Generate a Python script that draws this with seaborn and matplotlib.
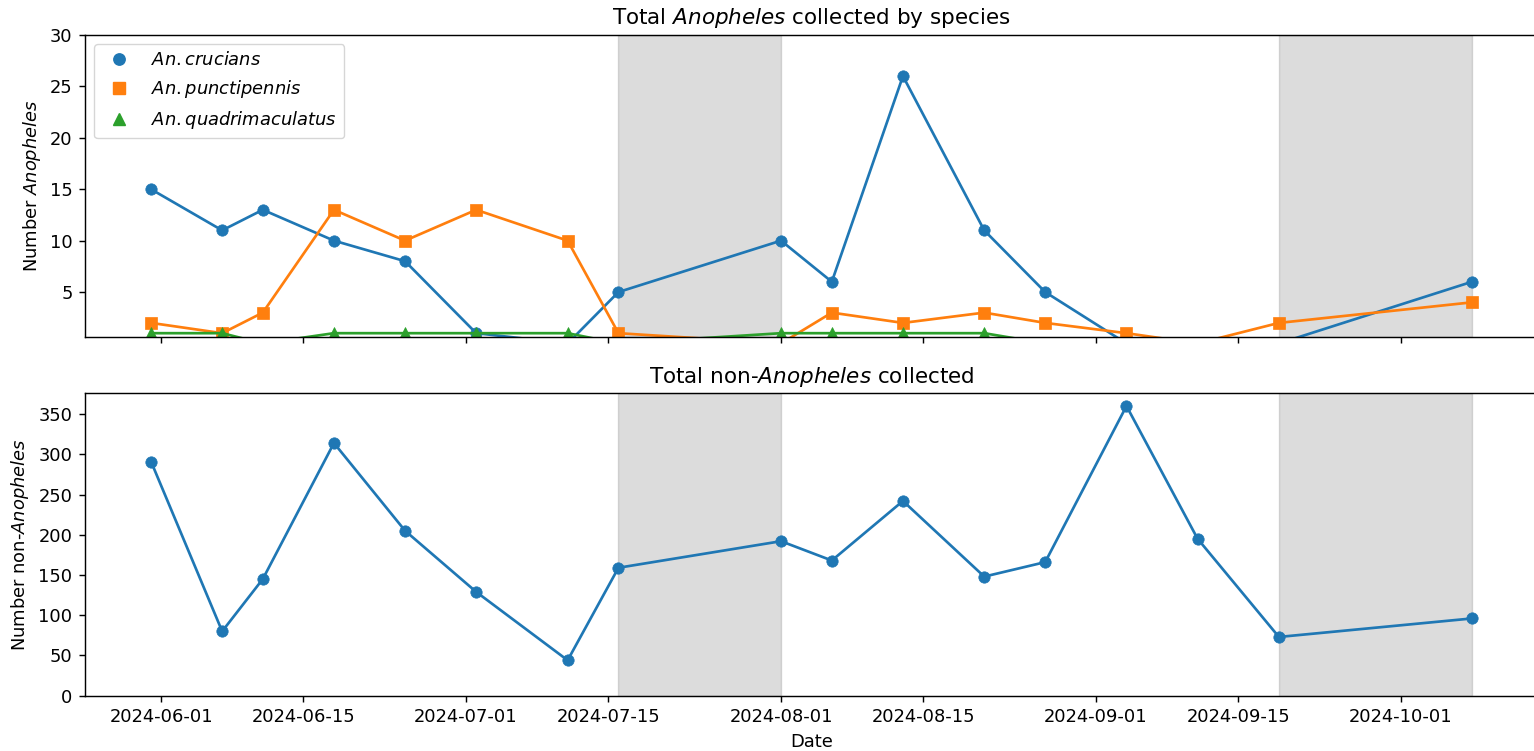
import matplotlib
matplotlib.use("Agg")
import matplotlib.pyplot as plt
import matplotlib.dates as mdates
from matplotlib.lines import Line2D
import seaborn as sns
import pandas as pd

# ---- data ----
dates = ['2024-05-31', '2024-06-07', '2024-06-11', '2024-06-18', '2024-06-25',
         '2024-07-02', '2024-07-11', '2024-07-16', '2024-08-01', '2024-08-06',
         '2024-08-13', '2024-08-21', '2024-08-27', '2024-09-04', '2024-09-11',
         '2024-09-19', '2024-10-08']
crucians = [15, 11, 13, 10, 8, 1, 0, 5, 10, 6, 26, 11, 5, 0, 0, 0, 6]
punctipennis = [2, 1, 3, 13, 10, 13, 10, 1, 0, 3, 2, 3, 2, 1, 0, 2, 4]
quadrimaculatus = [1, 1, 0, 1, 1, 1, 1, 0, 1, 1, 1, 1, 0, 0, 0, 0, 0]
non_anopheles = [291, 80, 145, 314, 205, 129, 44, 159, 192, 168, 242, 148,
                 166, 360, 195, 73, 96]
species_labels = [r'$An. crucians$', r'$An. punctipennis$', r'$An. quadrimaculatus$']
shaded_periods = [('2024-07-16', '2024-08-01'), ('2024-09-19', '2024-10-08')]

S = 1.29
plt.rcParams.update({
    'font.family': ['DejaVu Sans'],
    'font.size': 10 * S,
    'axes.linewidth': 0.8 * S,
    'xtick.major.width': 0.8 * S,
    'ytick.major.width': 0.8 * S,
    'xtick.major.size': 3.5 * S,
    'ytick.major.size': 3.5 * S,
    'xtick.major.pad': 3.5 * S,
    'ytick.major.pad': 3.5 * S,
    'axes.labelpad': 4 * S,
    'axes.titlepad': 6 * S,
    'axes.titlesize': 12 * S,
    'mathtext.fontset': 'dejavusans',
})

df = pd.DataFrame({
    'date': pd.to_datetime(dates),
    'crucians': crucians,
    'punctipennis': punctipennis,
    'quadrimaculatus': quadrimaculatus,
    'non': non_anopheles,
})

fig = plt.figure(figsize=(15.34, 7.51), dpi=100)
W, H = 1534, 751
left, right = 85, 1538
ax1 = fig.add_axes([left / W, (H - 337.3) / H, (right - left) / W, 302.3 / H])
ax2 = fig.add_axes([left / W, (H - 695.7) / H, (right - left) / W, 302.4 / H], sharex=ax1)

colors = ['#1f77b4', '#ff7f0e', '#2ca02c']
markers = ['o', 's', '^']
msizes = [8.2, 8.6, 8.4]
lw = 1.5 * S

for col, c, m, ms in zip(['crucians', 'punctipennis', 'quadrimaculatus'], colors, markers, msizes):
    sns.lineplot(data=df, x='date', y=col, ax=ax1, color=c, marker=m,
                 markersize=ms, markeredgecolor=c, markeredgewidth=0.5,
                 linewidth=lw, legend=False)

sns.lineplot(data=df, x='date', y='non', ax=ax2, color=colors[0], marker='o',
             markersize=msizes[0], markeredgecolor=colors[0], markeredgewidth=0.5,
             linewidth=lw, legend=False)

for ax in (ax1, ax2):
    for a, b in shaded_periods:
        ax.axvspan(pd.Timestamp(a), pd.Timestamp(b), color='grey', alpha=0.27, zorder=0.5)

ax1.set_ylim(0.6, 30)
ax1.set_yticks([5, 10, 15, 20, 25, 30])
ax2.set_ylim(bottom=0)

ax2.xaxis.set_major_locator(mdates.DayLocator(bymonthday=[1, 15]))
ax2.xaxis.set_major_formatter(mdates.DateFormatter('%Y-%m-%d'))
ax1.tick_params(axis='x', labelbottom=False)

ax1.set_xlabel('')
ax1.set_ylabel(r'Number $\it{Anopheles}$')
ax1.set_title(r'Total $\it{Anopheles}$ collected by species')
ax2.set_xlabel('Date')
ax2.set_ylabel(r'Number non-$\it{Anopheles}$')
ax2.set_title(r'Total non-$\it{Anopheles}$ collected')

handles = [Line2D([], [], linestyle='none', marker=m, color=c, markersize=ms)
           for m, c, ms in zip(markers, colors, msizes)]
ax1.legend(handles, species_labels, loc='upper left')

fig.savefig('out.png', dpi=100)
